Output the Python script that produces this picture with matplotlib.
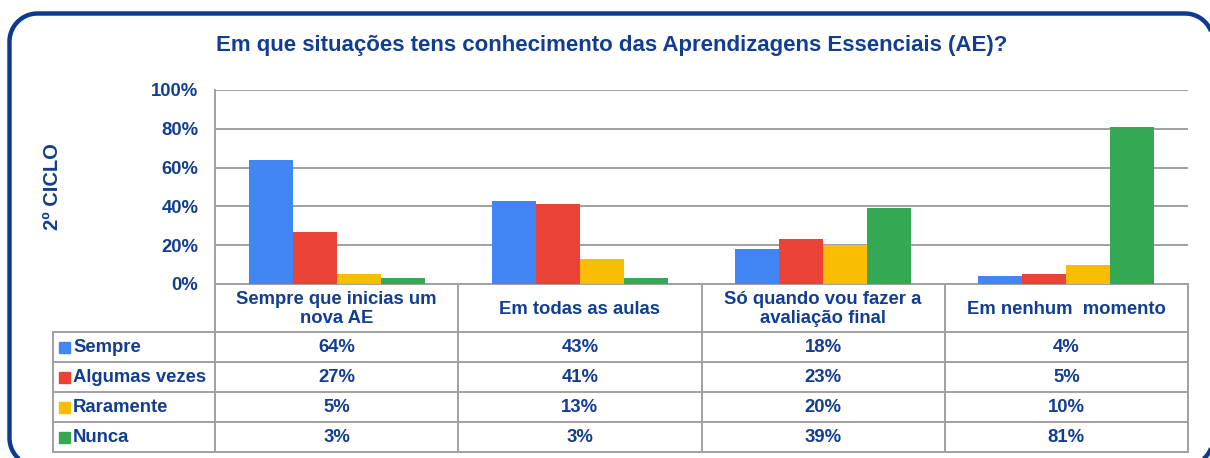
import matplotlib
matplotlib.use("Agg")
import matplotlib.pyplot as plt
from matplotlib.patches import Rectangle, Polygon
import numpy as np

plt.rcParams['font.family'] = ['Liberation Sans', 'DejaVu Sans']

title = "Em que situações tens conhecimento das Aprendizagens Essenciais (AE)?"
ylabel = "2º CICLO"
categories = ["Sempre que inicias um\nnova AE", "Em todas as aulas",
              "Só quando vou fazer a\navaliação final", "Em nenhum  momento"]
series_names = ["Sempre", "Algumas vezes", "Raramente", "Nunca"]
sempre = [64, 43, 18, 4]
algumas = [27, 41, 23, 5]
raramente = [5, 13, 20, 10]
nunca = [3, 3, 39, 81]
series_values = [sempre, algumas, raramente, nunca]
colors = ["#4285F4", "#EA4335", "#FBBC04", "#34A853"]
yticks = [0, 20, 40, 60, 80, 100]

TXT = "#123D90"
GRID = "#A0A0A0"
FS = 13.3
W, H = 1210, 458
fig = plt.figure(figsize=(W / 100, H / 100), dpi=100)

# overlay axes in pixel coordinates
ov = fig.add_axes([0, 0, 1, 1])
ov.set_xlim(0, W)
ov.set_ylim(H, 0)
ov.axis('off')


def rounded_rect(x0, y0, x1, y1, r, n=30):
    pts = []
    corners = [((x1 - r, y0 + r), -90, 0), ((x1 - r, y1 - r), 0, 90),
               ((x0 + r, y1 - r), 90, 180), ((x0 + r, y0 + r), 180, 270)]
    for (cx, cy), a0, a1 in corners:
        t = np.radians(np.linspace(a0, a1, n))
        pts.extend(zip(cx + r * np.cos(t), cy + r * np.sin(t)))
    return np.array(pts)


border = rounded_rect(9.5, 13.5, 1213, 466, 28)
ov.add_patch(Polygon(border, closed=True, fill=False, edgecolor="#0B3A8F",
                     linewidth=3.2, joinstyle='round'))

# plot area (pixels)
L, R, T, B = 215, 1188, 90, 284
ax = fig.add_axes([L / W, 1 - B / H, (R - L) / W, (B - T) / H])
ax.set_xlim(-0.5, len(categories) - 0.5)
ax.set_ylim(0, 100)
bw = 0.181
x = np.arange(len(categories))
for i, (vals, c) in enumerate(zip(series_values, colors)):
    ax.bar(x + (i - 1.5) * bw, vals, width=bw, color=c, zorder=3)
ax.set_yticks(yticks)
ax.set_yticklabels([f"{v}%" for v in yticks], fontsize=FS, fontweight='bold', color=TXT)
ax.set_xticks([])
ax.yaxis.grid(True, color=GRID, linewidth=1.4, zorder=0)
for s in ['top', 'right', 'bottom']:
    ax.spines[s].set_visible(False)
ax.spines['left'].set_color(GRID)
ax.spines['left'].set_linewidth(1.4)
ax.tick_params(axis='y', length=0, pad=12)
ax.patch.set_alpha(0)

# y label & title
ov.text(53, 187, ylabel, rotation=90, ha='center', va='center', fontsize=14.5,
        fontweight='bold', color=TXT)
ov.text(612, 45, title, ha='center', va='center', fontsize=16, fontweight='bold', color=TXT)

# table
LEG_L = 53
row_edges = [284, 332, 362, 392, 422, 452]
col_w = (R - L) / len(categories)
col_edges = [L + k * col_w for k in range(len(categories) + 1)]
lw = 1.4
ov.plot([L, R], [row_edges[0], row_edges[0]], color=GRID, lw=lw)
for y in row_edges[1:]:
    ov.plot([LEG_L, R], [y, y], color=GRID, lw=lw)
for xe in col_edges:
    ov.plot([xe, xe], [row_edges[0], row_edges[-1]], color=GRID, lw=lw)
ov.plot([LEG_L, LEG_L], [row_edges[1], row_edges[-1]], color=GRID, lw=lw)

for k, cat in enumerate(categories):
    ov.text(col_edges[k] + col_w / 2, (row_edges[0] + row_edges[1]) / 2 + 1, cat,
            ha='center', va='center', fontsize=FS, fontweight='bold', color=TXT,
            linespacing=1.15)
for r, (name, vals, c) in enumerate(zip(series_names, series_values, colors)):
    yc = (row_edges[r + 1] + row_edges[r + 2]) / 2
    ov.add_patch(Rectangle((59, yc - 5), 11, 11, color=c))
    ov.text(73, yc + 1, name, ha='left', va='center', fontsize=FS, fontweight='bold', color=TXT)
    for k, v in enumerate(vals):
        ov.text(col_edges[k] + col_w / 2, yc + 1, f"{v}%", ha='center', va='center',
                fontsize=FS, fontweight='bold', color=TXT)

fig.savefig("out.png", dpi=100)
